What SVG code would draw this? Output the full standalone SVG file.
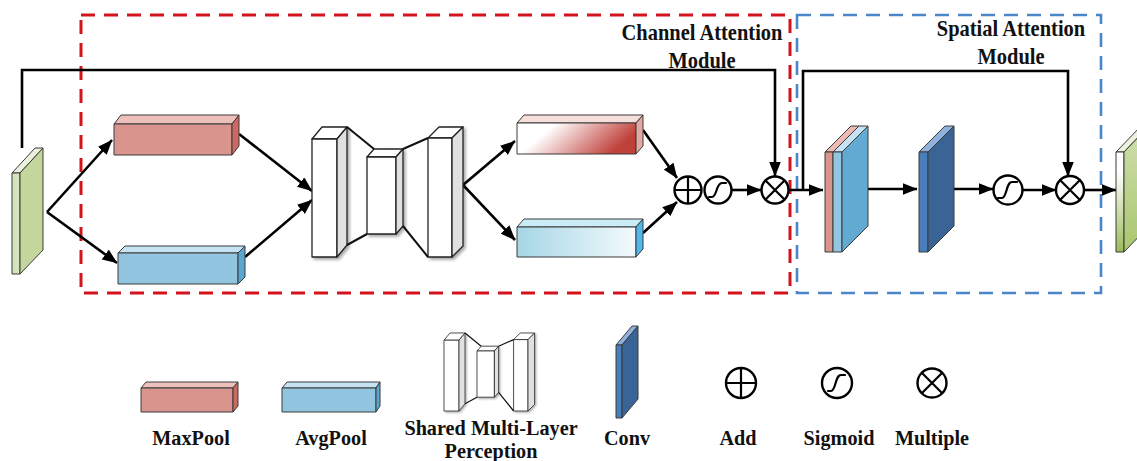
<svg xmlns="http://www.w3.org/2000/svg" xmlns:xlink="http://www.w3.org/1999/xlink" width="1137" height="461" viewBox="0 0 1137 461">
  <style>
    .lbl { font-family: "Liberation Serif", "Times New Roman", serif; font-weight: bold; fill: #111; text-anchor: middle; }
    .title { font-size: 22.5px; }
    .leg { font-size: 22px; }
    .edge { fill: none; stroke: #000; stroke-width: 2.6; }
    .box { stroke: #3a3a3a; stroke-width: 1; stroke-linejoin: round; }
    .op { fill: #fff; stroke: #000; stroke-width: 2.4; }
    .opmark { fill: none; stroke: #000; stroke-width: 2.2; stroke-linecap: round; }
    .slab { fill: #fff; stroke: #222; stroke-width: 1.3; stroke-linejoin: round; }
    .slabside { fill: #e0e0e0; stroke: #222; stroke-width: 1.3; stroke-linejoin: round; }
    .link { fill: none; stroke: #111; stroke-width: 2; }
  </style>
  <defs>
    <marker id="arrow" markerUnits="userSpaceOnUse" markerWidth="15" markerHeight="12" viewBox="0 0 15 12" refX="14.5" refY="6" orient="auto">
      <path d="M0,0 L15,6 L0,12 z" fill="#000"/>
    </marker>
    <linearGradient id="gradRed" x1="0" y1="0" x2="1" y2="0.3">
      <stop offset="0" stop-color="#ffffff"/>
      <stop offset="0.3" stop-color="#ffffff"/>
      <stop offset="1" stop-color="#c0403a"/>
    </linearGradient>
    <linearGradient id="gradBlue" x1="0" y1="0" x2="1" y2="0">
      <stop offset="0" stop-color="#a6d6e6"/>
      <stop offset="1" stop-color="#f4fafc"/>
    </linearGradient>
    <linearGradient id="gradOut" x1="0" y1="0" x2="0" y2="1">
      <stop offset="0.2" stop-color="#ffffff"/>
      <stop offset="1" stop-color="#9bbb59"/>
    </linearGradient>
    <linearGradient id="gradOutSide" x1="0" y1="0" x2="0" y2="1">
      <stop offset="0" stop-color="#cfe0ae"/>
      <stop offset="1" stop-color="#a9c66e"/>
    </linearGradient>
    <filter id="shadow" x="-20%" y="-20%" width="150%" height="150%">
      <feDropShadow dx="2" dy="2" stdDeviation="1.5" flood-color="#000" flood-opacity="0.35"/>
    </filter>

    <!-- shared multi-layer perceptron: three slabs joined by hour-glass edges -->
    <g id="mlpShape">
      <g filter="url(#shadow)">
        <path class="slab" d="M312,139 L322,127 L347,127 L337,139 z"/>
        <rect class="slab" x="312" y="139" width="25" height="118"/>
        <path class="slabside" d="M337,139 L347,127 L347,245 L337,257 z"/>
        <path class="slab" d="M367,157 L374,149 L403,149 L396,157 z"/>
        <rect class="slab" x="367" y="157" width="29" height="77"/>
        <path class="slabside" d="M396,157 L403,149 L403,226 L396,234 z"/>
        <path class="slab" d="M428,138 L439,127 L463,127 L452,138 z"/>
        <rect class="slab" x="428" y="138" width="24" height="119"/>
        <path class="slabside" d="M452,138 L463,127 L463,246 L452,257 z"/>
      </g>
      <path class="link" d="M347,127 L374,149 M347,245 L367,234 M403,149 L428,138 M403,226 L428,257"/>
    </g>
  </defs>

  <!-- module frames -->
  <g id="channel-attention-frame">
    <rect x="81" y="15" width="709" height="278" fill="none" stroke="#d4141c" stroke-width="3" stroke-dasharray="14 9"/>
    <text class="lbl title" transform="translate(702,40) scale(0.91,1)">Channel Attention</text>
    <text class="lbl title" transform="translate(702,68) scale(0.91,1)">Module</text>
  </g>
  <g id="spatial-attention-frame">
    <rect x="797" y="15" width="304" height="278" fill="none" stroke="#4a86c8" stroke-width="2.6" stroke-dasharray="14 9"/>
    <text class="lbl title" transform="translate(1011,36) scale(0.91,1)">Spatial Attention</text>
    <text class="lbl title" transform="translate(1011,64) scale(0.91,1)">Module</text>
  </g>

  <!-- connectors -->
  <g id="connectors">
    <path class="edge" d="M47,212 L112,140" marker-end="url(#arrow)"/>
    <path class="edge" d="M47,212 L117,263" marker-end="url(#arrow)"/>
    <path class="edge" d="M239,134 L312,191" marker-end="url(#arrow)"/>
    <path class="edge" d="M245,257 L312,200" marker-end="url(#arrow)"/>
    <path class="edge" d="M463,185 L515,141" marker-end="url(#arrow)"/>
    <path class="edge" d="M463,185 L515,240" marker-end="url(#arrow)"/>
    <path class="edge" d="M643,130 L677,178" marker-end="url(#arrow)"/>
    <path class="edge" d="M643,233 L677,202" marker-end="url(#arrow)"/>
    <path class="edge" d="M732,190 L761,190" marker-end="url(#arrow)"/>
    <path class="edge" d="M22,148 V70 H775 V176" marker-end="url(#arrow)"/>
    <path class="edge" d="M788,190 L823,190" marker-end="url(#arrow)"/>
    <path class="edge" d="M803,190 V71 H1068 V176" marker-end="url(#arrow)"/>
    <path class="edge" d="M864,189 L917,189" marker-end="url(#arrow)"/>
    <path class="edge" d="M949,189 L993,189" marker-end="url(#arrow)"/>
    <path class="edge" d="M1023,190 L1056,190" marker-end="url(#arrow)"/>
    <path class="edge" d="M1084,190 L1116,190" marker-end="url(#arrow)"/>
  </g>

  <!-- input feature map -->
  <g id="input-feature">
    <path class="box" d="M12,173 L35,148 L43,148 L20,173 z" fill="#ebf1dd"/>
    <rect class="box" x="12" y="173" width="8" height="101" fill="#d6e4bd"/>
    <path class="box" d="M20,173 L43,148 L43,250 L20,274 z" fill="#c3d69b"/>
  </g>

  <!-- pooled descriptors -->
  <g id="maxpool">
    <path class="box" d="M114,124 L121,115 L239,115 L232,124 z" fill="#eec0bb"/>
    <rect class="box" x="114" y="124" width="118" height="31" fill="#d9948e"/>
    <path class="box" d="M232,124 L239,115 L239,146 L232,155 z" fill="#cc6a62"/>
  </g>
  <g id="avgpool">
    <path class="box" d="M118,253 L125,246 L245,246 L238,253 z" fill="#c5e3f2"/>
    <rect class="box" x="118" y="253" width="120" height="31" fill="#92c5df"/>
    <path class="box" d="M238,253 L245,246 L245,277 L238,284 z" fill="#5aa6d1"/>
  </g>

  <g id="shared-mlp">
    <use xlink:href="#mlpShape"/>
  </g>

  <!-- MLP outputs -->
  <g id="mlp-out-max">
    <path class="box" d="M517,123 L524,115 L643,115 L636,123 z" fill="#f6dedb"/>
    <rect class="box" x="517" y="123" width="119" height="31" fill="url(#gradRed)"/>
    <path class="box" d="M636,123 L643,115 L643,146 L636,154 z" fill="#e4a8a2"/>
  </g>
  <g id="mlp-out-avg">
    <path class="box" d="M517,227 L524,219 L643,219 L636,227 z" fill="#c9ecf6"/>
    <rect class="box" x="517" y="227" width="119" height="30" fill="url(#gradBlue)"/>
    <path class="box" d="M636,227 L643,219 L643,249 L636,257 z" fill="#4fb8ec"/>
  </g>

  <!-- channel attention operators -->
  <g id="add-op">
    <circle class="op" cx="688" cy="190" r="13.5"/>
    <path class="opmark" d="M675,190 H701 M688,177 V203"/>
  </g>
  <g id="sigmoid-op-1">
    <circle class="op" cx="718" cy="190" r="13.5"/>
    <path class="opmark" d="M709,197 H712 C717,197 716,183 722,183 H726"/>
  </g>
  <g id="multiply-op-1">
    <circle class="op" cx="775" cy="190" r="13.5"/>
    <path class="opmark" d="M765.5,180.5 L784.5,199.5 M784.5,180.5 L765.5,199.5"/>
  </g>

  <!-- spatial attention: stacked pooled maps and conv -->
  <g id="concat-maps">
    <path class="box" d="M825,152 L851,126 L859,126 L833,152 z" fill="#eeb8b3"/>
    <path class="box" d="M833,152 L859,126 L868,126 L842,152 z" fill="#c5e3f2"/>
    <rect class="box" x="825" y="152" width="8" height="100" fill="#d9948e"/>
    <rect class="box" x="833" y="152" width="9" height="100" fill="#92c5df"/>
    <path class="box" d="M842,152 L868,126 L868,226 L842,252 z" fill="#62aad2"/>
  </g>
  <g id="conv">
    <path class="box" d="M919,152 L945,126 L954,126 L928,152 z" fill="#8fb2dc"/>
    <rect class="box" x="919" y="152" width="9" height="100" fill="#4a7ebb"/>
    <path class="box" d="M928,152 L954,126 L954,226 L928,252 z" fill="#3b6496"/>
  </g>
  <g id="sigmoid-op-2">
    <circle class="op" cx="1008" cy="190" r="14.5"/>
    <path class="opmark" d="M998,198 H1002 C1007,198 1006,182 1012,182 H1017"/>
  </g>
  <g id="multiply-op-2">
    <circle class="op" cx="1070" cy="190" r="14"/>
    <path class="opmark" d="M1060,180 L1080,200 M1080,180 L1060,200"/>
  </g>

  <!-- refined feature map -->
  <g id="output-feature">
    <path class="box" d="M1116,152 L1142,125 L1150,125 L1124,152 z" fill="#ebf1dd"/>
    <rect class="box" x="1116" y="152" width="8" height="100" fill="url(#gradOut)"/>
    <path class="box" d="M1124,152 L1150,125 L1150,225 L1124,252 z" fill="url(#gradOutSide)"/>
  </g>

  <!-- legend -->
  <g id="legend-maxpool">
    <path class="box" d="M141,388 L146,382 L238,382 L233,388 z" fill="#eec0bb"/>
    <rect class="box" x="141" y="388" width="92" height="24" fill="#d9948e"/>
    <path class="box" d="M233,388 L238,382 L238,406 L233,412 z" fill="#cc6a62"/>
    <text class="lbl leg" transform="translate(191,445) scale(0.92,1)">MaxPool</text>
  </g>
  <g id="legend-avgpool">
    <path class="box" d="M282,388 L287,382 L380,382 L376,388 z" fill="#c5e3f2"/>
    <rect class="box" x="282" y="388" width="94" height="24" fill="#92c5df"/>
    <path class="box" d="M376,388 L380,382 L380,406 L376,412 z" fill="#5aa6d1"/>
    <text class="lbl leg" transform="translate(331,445) scale(0.92,1)">AvgPool</text>
  </g>
  <g id="legend-mlp">
    <use xlink:href="#mlpShape" transform="translate(256.8,256.8) scale(0.6)"/>
    <text class="lbl leg" transform="translate(491,435) scale(0.92,1)">Shared Multi-Layer</text>
    <text class="lbl leg" transform="translate(491,458) scale(0.92,1)">Perception</text>
  </g>
  <g id="legend-conv">
    <path class="box" d="M616,345 L632,326 L638,326 L622,345 z" fill="#8fb2dc"/>
    <rect class="box" x="616" y="345" width="6" height="73" fill="#4a7ebb"/>
    <path class="box" d="M622,345 L638,326 L638,399 L622,418 z" fill="#3b6496"/>
    <text class="lbl leg" transform="translate(627,445) scale(0.92,1)">Conv</text>
  </g>
  <g id="legend-add">
    <circle class="op" cx="741" cy="383" r="15"/>
    <path class="opmark" d="M726,383 H756 M741,368 V398"/>
    <text class="lbl leg" transform="translate(738,445) scale(0.92,1)">Add</text>
  </g>
  <g id="legend-sigmoid">
    <circle class="op" cx="837" cy="383" r="15"/>
    <path class="opmark" d="M828,391 H831 C836,391 835,375 841,375 H845"/>
    <text class="lbl leg" transform="translate(839,445) scale(0.92,1)">Sigmoid</text>
  </g>
  <g id="legend-multiply">
    <circle class="op" cx="932" cy="383" r="14.5"/>
    <path class="opmark" d="M922,373 L942,393 M942,373 L922,393"/>
    <text class="lbl leg" transform="translate(932,445) scale(0.92,1)">Multiple</text>
  </g>
</svg>
